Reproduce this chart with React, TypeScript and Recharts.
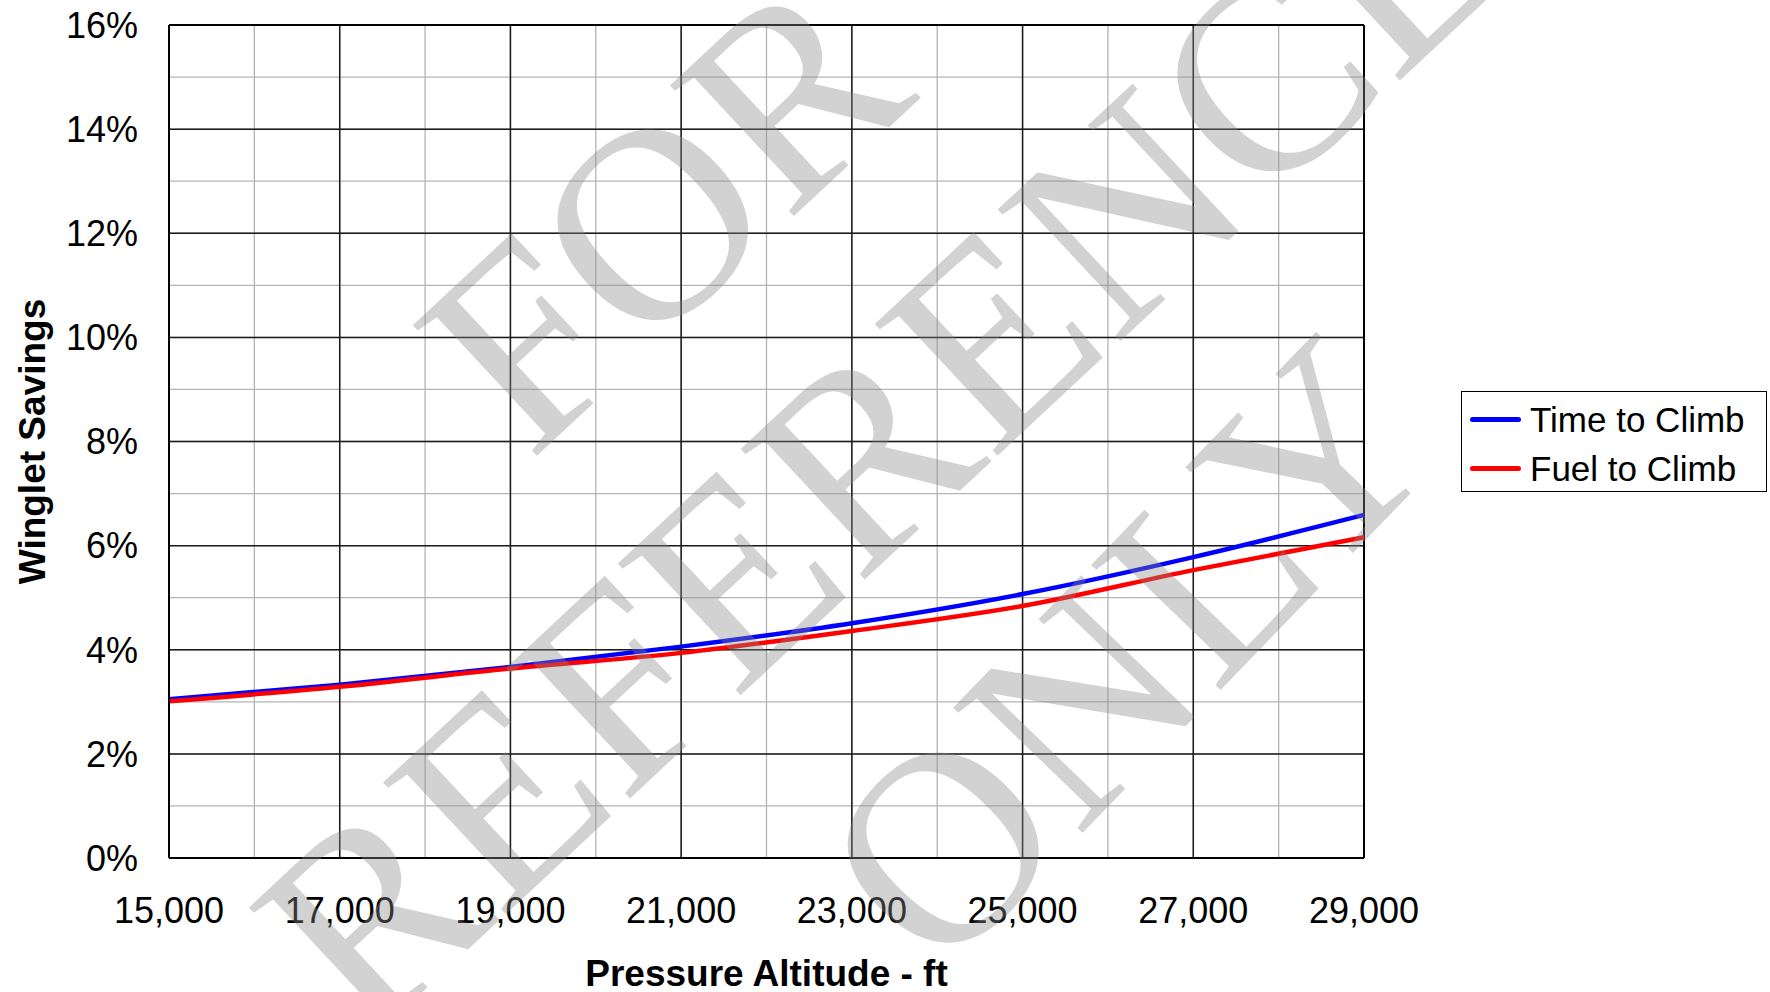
import React from 'react';
import {
  LineChart,
  Line,
  XAxis,
  YAxis,
  CartesianGrid,
  ReferenceLine,
  Legend,
  Label
} from 'recharts';

// Pressure altitude (ft) and winglet savings (%)
const altitudes = [15000, 17000, 19000, 21000, 23000, 25000, 27000, 29000];
const timeToClimb = [3.05, 3.33, 3.67, 4.06, 4.51, 5.07, 5.78, 6.59];
const fuelToClimb = [3.01, 3.29, 3.64, 3.94, 4.36, 4.84, 5.53, 6.16];
const seriesNames = ['Time to Climb', 'Fuel to Climb'];

// axis ticks: minor every 1000 ft / 1 %, labelled majors every 2000 ft / 2 %
const xTicks = [15000, 16000, 17000, 18000, 19000, 20000, 21000, 22000, 23000, 24000, 25000, 26000, 27000, 28000, 29000];
const xMajor = [15000, 17000, 19000, 21000, 23000, 25000, 27000, 29000];
const yTicks = [0, 1, 2, 3, 4, 5, 6, 7, 8, 9, 10, 11, 12, 13, 14, 15, 16];
const yMajor = [0, 2, 4, 6, 8, 10, 12, 14, 16];

const watermark = ['FOR', 'REFERENCE', 'ONLY'];

const data = altitudes.map((alt, i) => ({
  alt,
  time: timeToClimb[i],
  fuel: fuelToClimb[i]
}));

const FONT = '"Liberation Sans", Arial, sans-serif';

const renderLegend = (props: any) => {
  const items = [...(props.payload || [])].sort(
    (a: any, b: any) => seriesNames.indexOf(a.value) - seriesNames.indexOf(b.value)
  );
  return (
    <div
      style={{
        border: '1.5px solid #000',
        background: '#fff',
        width: 306,
        height: 101,
        boxSizing: 'border-box',
        paddingTop: 3,
        fontFamily: FONT
      }}
    >
      {items.map((entry: any, index: number) => (
        <div key={index} style={{ display: 'flex', alignItems: 'center', height: 49 }}>
          <div style={{ width: 51, height: 5, borderRadius: 3, background: entry.color, marginLeft: 8, marginRight: 9 }} />
          <span style={{ fontSize: 35, color: '#000', lineHeight: '49px' }}>{entry.value}</span>
        </div>
      ))}
    </div>
  );
};

export default function App() {
  return (
    <div style={{ position: 'absolute', left: 0, top: 0, width: 1770, height: 992, background: '#fff' }}>
      <LineChart width={1770} height={992} data={data} margin={{ top: 25, right: 100, bottom: 0, left: 0 }}>
        <CartesianGrid stroke="#b4b4b4" strokeWidth={1.3} />
        {xMajor.map((v) => (
          <ReferenceLine key={`x${v}`} x={v} stroke="#1a1a1a" strokeWidth={1.5} />
        ))}
        {yMajor.map((v) => (
          <ReferenceLine key={`y${v}`} y={v} stroke="#1a1a1a" strokeWidth={1.5} />
        ))}
        <ReferenceLine x={29000} stroke="#000" strokeWidth={2} />
        <ReferenceLine y={16} stroke="#000" strokeWidth={2} />
        <XAxis
          dataKey="alt"
          type="number"
          domain={[15000, 29000]}
          ticks={xTicks}
          interval={0}
          height={134}
          tickSize={0}
          tickMargin={39}
          axisLine={{ stroke: '#000', strokeWidth: 2 }}
          tickLine={false}
          tick={{ fontSize: 36, fill: '#000', fontFamily: FONT }}
          tickFormatter={(v: number) => (xMajor.includes(v) ? v.toLocaleString('en-US') : '')}
        >
          <Label
            value="Pressure Altitude - ft"
            position="insideBottom"
            offset={6}
            style={{ fontSize: 37, fontWeight: 'bold', fill: '#000', fontFamily: FONT }}
          />
        </XAxis>
        <YAxis
          type="number"
          domain={[0, 16]}
          ticks={yTicks}
          interval={0}
          width={169}
          tickSize={0}
          tickMargin={31}
          axisLine={{ stroke: '#000', strokeWidth: 2 }}
          tickLine={false}
          tick={{ fontSize: 36, fill: '#000', fontFamily: FONT }}
          tickFormatter={(v: number) => (yMajor.includes(v) ? `${v}%` : '')}
        >
          <Label
            value="Winglet Savings"
            angle={-90}
            position="insideLeft"
            offset={32}
            style={{ fontSize: 37, fontWeight: 'bold', fill: '#000', fontFamily: FONT, textAnchor: 'middle' }}
          />
        </YAxis>
        <Legend
          layout="vertical"
          align="right"
          verticalAlign="middle"
          content={renderLegend}
          wrapperStyle={{ position: 'absolute', left: 1461, top: 391, width: 306 }}
        />
        <Line
          type="monotone"
          dataKey="time"
          name={seriesNames[0]}
          stroke="#0000ff"
          strokeWidth={4.5}
          dot={false}
          isAnimationActive={false}
        />
        <Line
          type="monotone"
          dataKey="fuel"
          name={seriesNames[1]}
          stroke="#ff0000"
          strokeWidth={4.5}
          dot={false}
          isAnimationActive={false}
        />
      </LineChart>
      {/* watermark overlay */}
      <svg
        width={1770}
        height={992}
        style={{ position: 'absolute', left: 0, top: 0, pointerEvents: 'none' }}
      >
        <g fontFamily='"Liberation Serif", "DejaVu Serif", serif' fontSize={275} fill="#8a8a8a" fillOpacity={0.38}>
          <text x={662} y={212} textAnchor="middle" dominantBaseline="central" transform="rotate(-43 662 212)">
            {watermark[0]}
          </text>
          <text x={878} y={440} textAnchor="middle" dominantBaseline="central" transform="rotate(-43 878 440)">
            {watermark[1]}
          </text>
          <text x={1128} y={652} textAnchor="middle" dominantBaseline="central" transform="rotate(-46 1128 652)">
            {watermark[2]}
          </text>
        </g>
      </svg>
    </div>
  );
}
